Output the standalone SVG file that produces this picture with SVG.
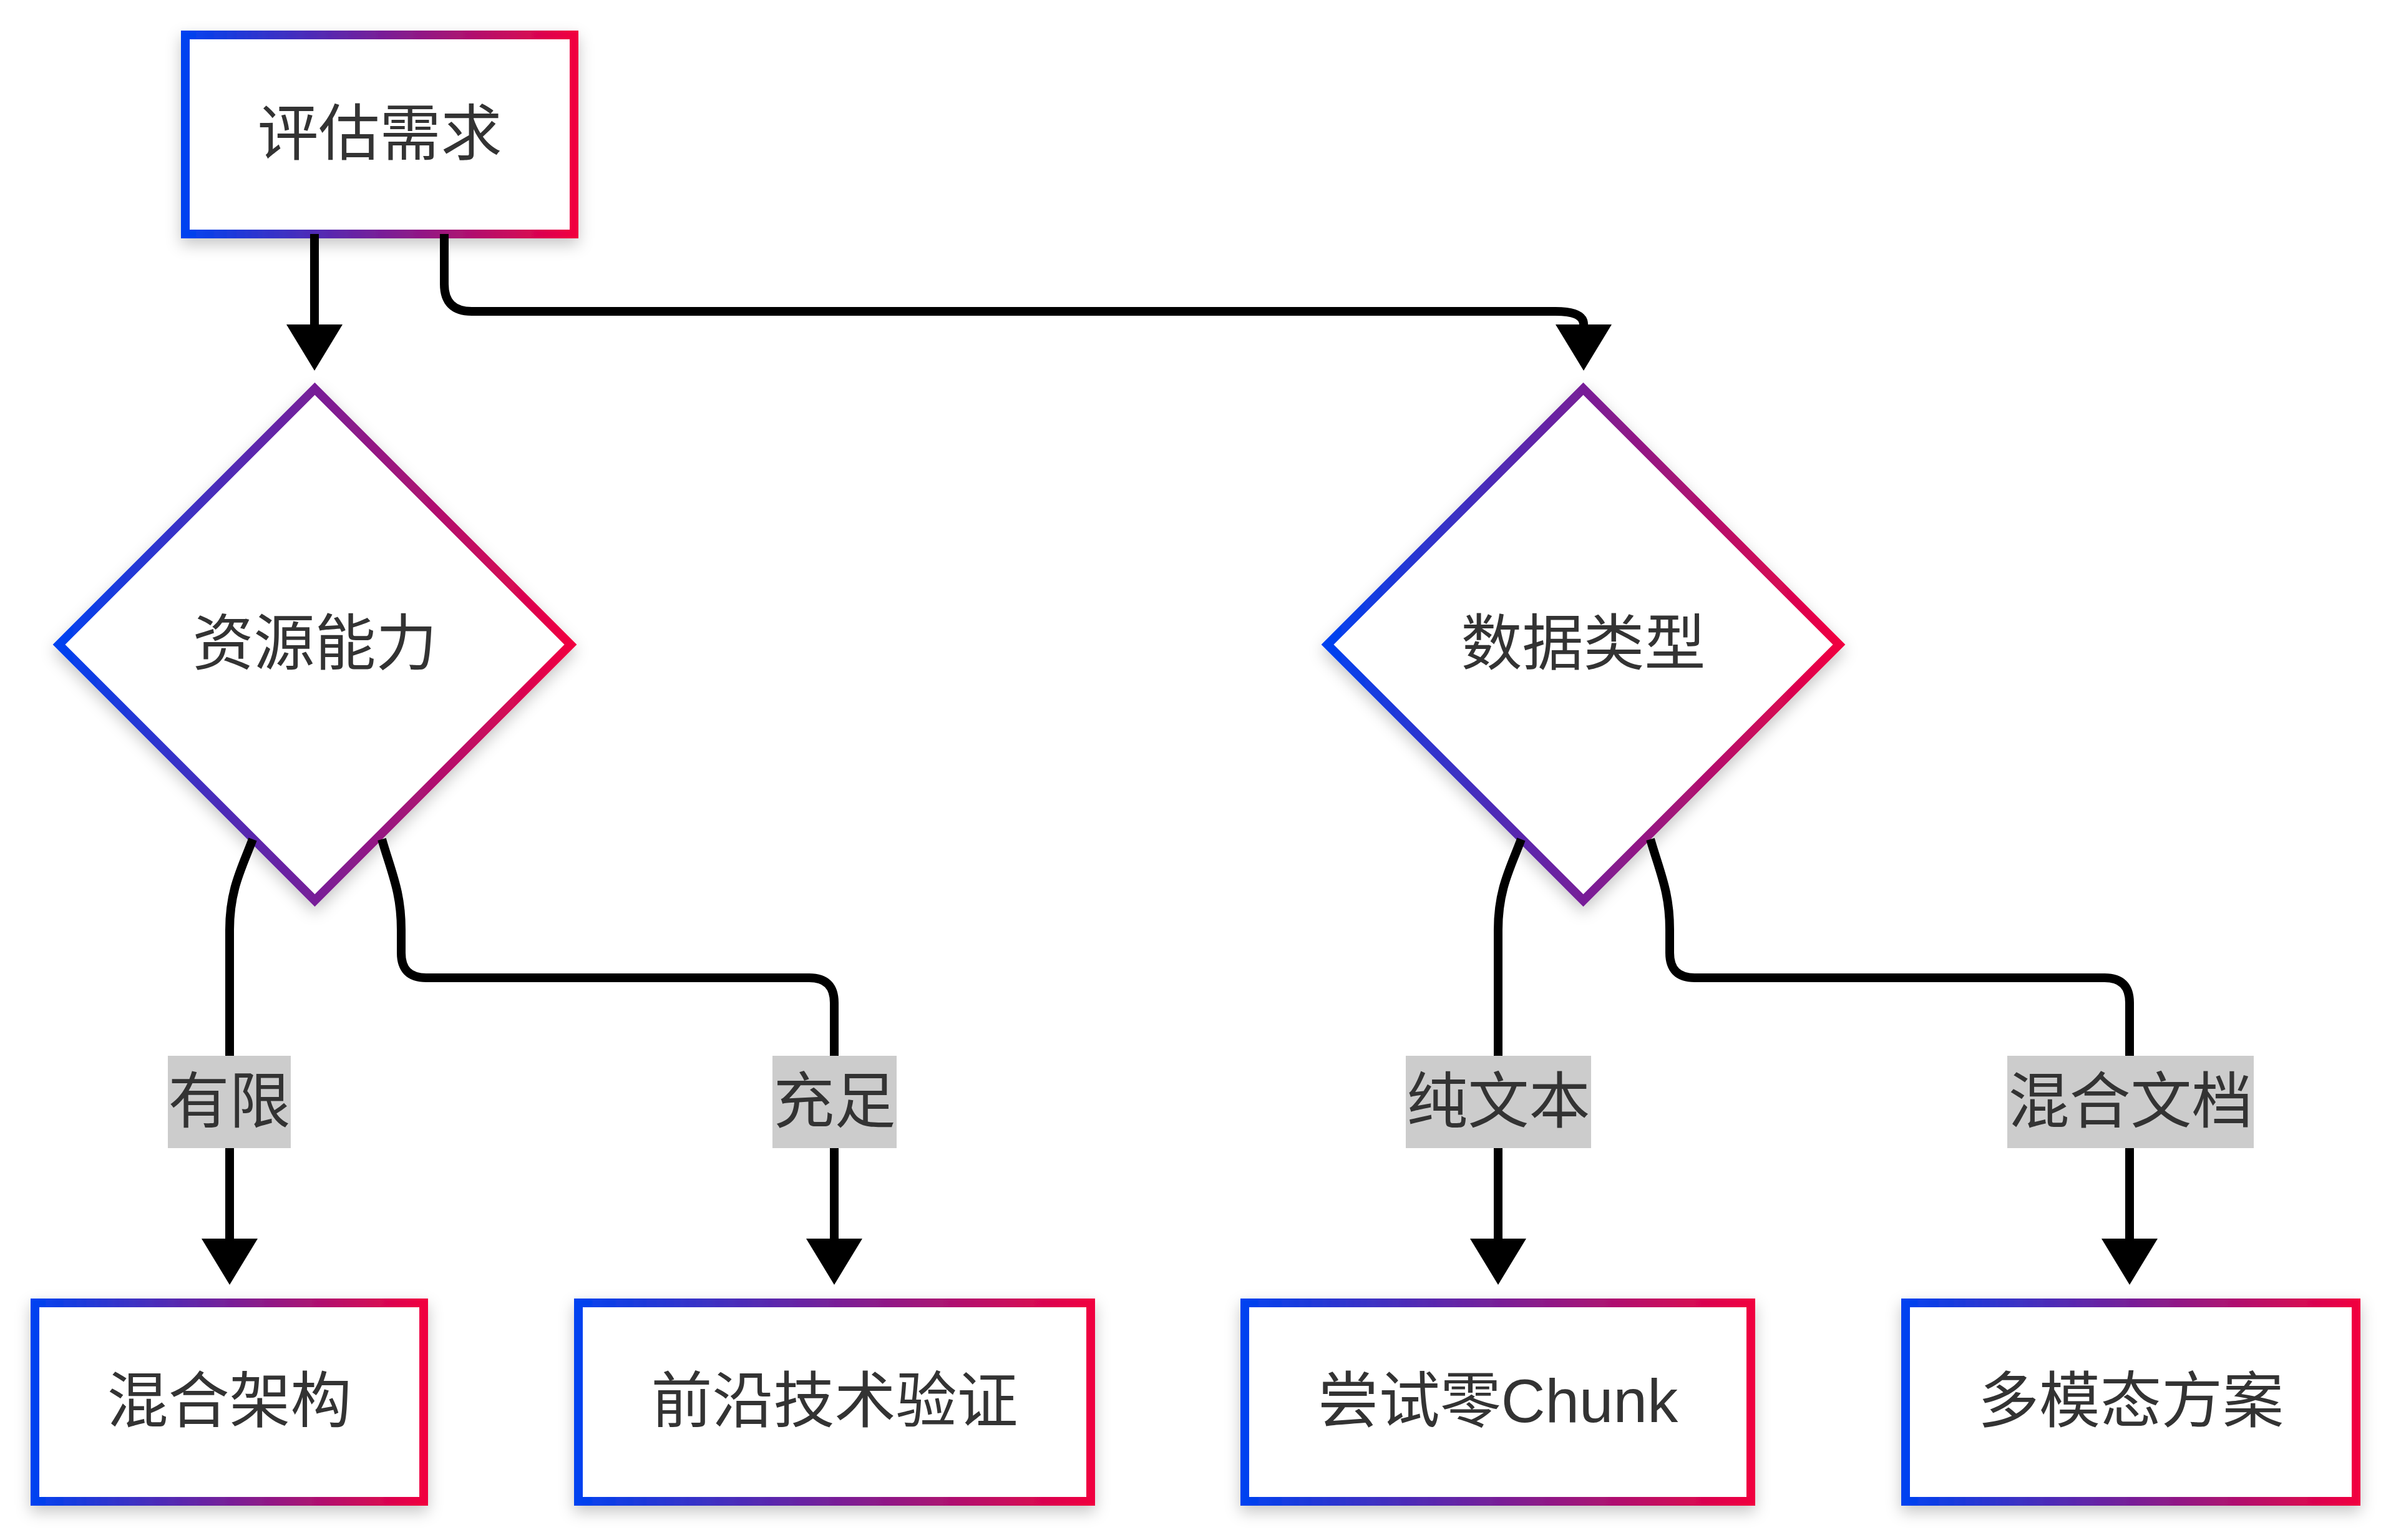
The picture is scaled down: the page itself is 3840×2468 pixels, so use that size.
<svg xmlns="http://www.w3.org/2000/svg" width="3840" height="2468" viewBox="0 0 3840 2468">
<defs>
<linearGradient id="grad" x1="0" y1="0" x2="1" y2="0">
<stop offset="0" stop-color="#0042f0"/>
<stop offset="0.5" stop-color="#771f98"/>
<stop offset="1" stop-color="#f00040"/>
</linearGradient>
<filter id="shadow" x="-20%" y="-20%" width="140%" height="150%">
<feDropShadow dx="0" dy="10" stdDeviation="12" flood-color="#000" flood-opacity="0.22"/>
</filter>
<marker id="arrow" markerUnits="userSpaceOnUse" markerWidth="76" markerHeight="92" refX="0" refY="45" orient="auto" overflow="visible">
<path d="M0,0 L74,45 L0,90 Z" fill="#000"/>
</marker>
</defs>
<style>
.node{fill:#fff;stroke:url(#grad);stroke-width:14;filter:url(#shadow);}
.txt{font-family:"Liberation Sans","Noto Sans CJK SC",sans-serif;font-size:98px;fill:#333;text-anchor:middle;}
.edge{fill:none;stroke:#000;stroke-width:14;marker-end:url(#arrow);}
.lbl{fill:#cccccc;}
</style>
<rect width="3840" height="2468" fill="#fff"/>

<g id="n-assess">
<rect class="node" x="297" y="56" width="623" height="319"/>
<text class="txt" x="608.5" y="248">评估需求</text>
</g>
<g id="n-resource">
<polygon class="node" points="504.5,623 914.5,1033 504.5,1443 94.5,1033"/>
<text class="txt" x="504.5" y="1065">资源能力</text>
</g>
<g id="n-datatype">
<polygon class="node" points="2537.5,623 2947.5,1033 2537.5,1443 2127.5,1033"/>
<text class="txt" x="2537.5" y="1065">数据类型</text>
</g>
<g id="n-hybrid">
<rect class="node" x="56" y="2088" width="623" height="318"/>
<text class="txt" x="367.5" y="2279">混合架构</text>
</g>
<g id="n-frontier">
<rect class="node" x="927" y="2088" width="821" height="318"/>
<text class="txt" x="1337.5" y="2279">前沿技术验证</text>
</g>
<g id="n-zerochunk">
<rect class="node" x="1995" y="2088" width="811" height="318"/>
<text class="txt" x="2400.5" y="2279">尝试零Chunk</text>
</g>
<g id="n-multimodal">
<rect class="node" x="3054" y="2088" width="722" height="318"/>
<text class="txt" x="3415" y="2279">多模态方案</text>
</g>

<g id="connectors">
<path class="edge" d="M504,375 L504,520"/>
<path class="edge" d="M712,375 L712,455 Q712,499 756,499 L2493,499 Q2538,499 2538,520"/>
<path class="edge" d="M405,1345 C388,1390 368,1425 368,1490 L368,1985"/>
<path class="edge" d="M612,1345 C628,1400 643,1430 643,1490 L643,1527 Q643,1567 683,1567 L1297,1567 Q1337,1567 1337,1607 L1337,1985"/>
<path class="edge" d="M2438,1345 C2421,1390 2401,1425 2401,1490 L2401,1985"/>
<path class="edge" d="M2645,1345 C2661,1400 2676,1430 2676,1490 L2676,1527 Q2676,1567 2716,1567 L3373,1567 Q3413,1567 3413,1607 L3413,1985"/>
<g id="l-limited">
<rect class="lbl" x="269" y="1692" width="197" height="148"/>
<text class="txt" x="367.5" y="1799">有限</text>
</g>
<g id="l-ample">
<rect class="lbl" x="1238" y="1692" width="199" height="148"/>
<text class="txt" x="1337.5" y="1799">充足</text>
</g>
<g id="l-plaintext">
<rect class="lbl" x="2253" y="1692" width="297" height="148"/>
<text class="txt" x="2401.5" y="1799">纯文本</text>
</g>
<g id="l-mixed">
<rect class="lbl" x="3217" y="1692" width="395" height="148"/>
<text class="txt" x="3414.5" y="1799">混合文档</text>
</g>
</g>
</svg>
